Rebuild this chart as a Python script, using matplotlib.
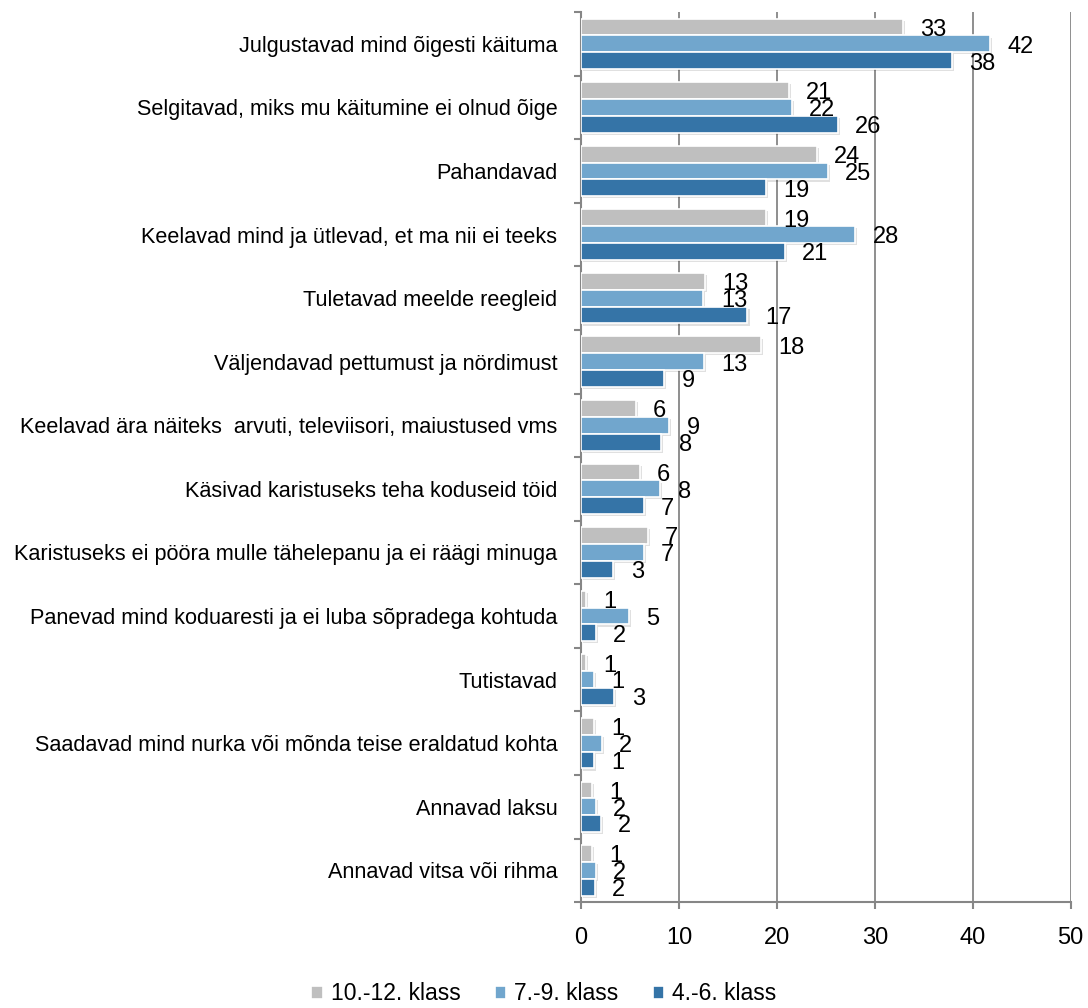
import numpy as np
import matplotlib
matplotlib.use('Agg')
import matplotlib.pyplot as plt
import matplotlib.patheffects as pe

plt.rcParams['font.family'] = ['Liberation Sans', 'DejaVu Sans']

categories = [
    'Julgustavad mind õigesti käituma',
    'Selgitavad, miks mu käitumine ei olnud õige',
    'Pahandavad',
    'Keelavad mind ja ütlevad, et ma nii ei teeks',
    'Tuletavad meelde reegleid',
    'Väljendavad pettumust ja nördimust',
    'Keelavad ära näiteks  arvuti, televiisori, maiustused vms',
    'Käsivad karistuseks teha koduseid töid',
    'Karistuseks ei pööra mulle tähelepanu ja ei räägi minuga',
    'Panevad mind koduaresti ja ei luba sõpradega kohtuda',
    'Tutistavad',
    'Saadavad mind nurka või mõnda teise eraldatud kohta',
    'Annavad laksu',
    'Annavad vitsa või rihma',
]

# bar lengths
klass_10_12 = [32.9, 21.2, 24.1, 18.9, 12.7, 18.4, 5.6, 6.0, 6.8, 0.5, 0.5, 1.3, 1.1, 1.1]
klass_7_9 = [41.8, 21.5, 25.2, 28.0, 12.5, 12.6, 9.0, 8.1, 6.4, 4.9, 1.3, 2.1, 1.5, 1.5]
klass_4_6 = [37.9, 26.2, 18.9, 20.8, 17.0, 8.5, 8.2, 6.4, 3.3, 1.5, 3.4, 1.3, 2.0, 1.4]

# data labels as printed on the chart
labels_10_12 = [33, 21, 24, 19, 13, 18, 6, 6, 7, 1, 1, 1, 1, 1]
labels_7_9 = [42, 22, 25, 28, 13, 13, 9, 8, 7, 5, 1, 2, 2, 2]
labels_4_6 = [38, 26, 19, 21, 17, 9, 8, 7, 3, 2, 3, 1, 2, 2]

series = [
    ('10.-12. klass', klass_10_12, labels_10_12, '#BFBFBF'),
    ('7.-9. klass', klass_7_9, labels_7_9, '#71A6CD'),
    ('4.-6. klass', klass_4_6, labels_4_6, '#3574A7'),
]

fig = plt.figure(figsize=(10.88, 10.08), dpi=100)
ax = fig.add_axes([0.534, 0.105, 0.450, 0.883])

y = np.arange(len(categories))
h = 0.265
shadow = [pe.SimplePatchShadow(offset=(1.5, -1.5), shadow_rgbFace='black', alpha=0.12), pe.Normal()]

for i, (name, vals, labs, color) in enumerate(series):
    pos = y + (i - 1) * h
    bars = ax.barh(pos, vals, height=h, color=color, edgecolor='white',
                   linewidth=1.2, label=name, zorder=3)
    for b in bars:
        b.set_path_effects(shadow)
    for p, v, lab in zip(pos, vals, labs):
        ax.annotate(str(lab), xy=(v, p), xytext=(12.5, -2),
                    textcoords='offset points', va='center', ha='left',
                    fontsize=17, zorder=4)

ax.set_xlim(0, 50)
ax.set_ylim(len(categories) - 0.5, -0.5)
ax.set_xticks(range(0, 51, 10))
ax.set_yticks(y)
ax.set_yticklabels(categories, fontsize=15.6)
ax.set_yticks(np.arange(-0.5, len(categories)), minor=True)
ax.tick_params(axis='y', which='major', length=0, pad=17)
ax.tick_params(axis='y', which='minor', length=5, color='#868686', width=1.5)
ax.tick_params(axis='x', length=5, color='#868686', width=1.5, labelsize=17, pad=13)

ax.grid(axis='x', color='#868686', linewidth=1.3, zorder=0)
for s in ['top', 'right']:
    ax.spines[s].set_visible(False)
for s in ['left', 'bottom']:
    ax.spines[s].set_color('#868686')
    ax.spines[s].set_linewidth(1.5)

leg = ax.legend(loc='center', ncol=3, frameon=False, fontsize=16.5,
                handlelength=0.5, handleheight=0.5, handletextpad=0.35,
                columnspacing=1.5, borderpad=0.1)
leg.set_bbox_to_anchor((0.5, 0.014), transform=fig.transFigure)
for p in leg.get_patches():
    p.set_path_effects([])

fig.savefig('out.png', dpi=100)
